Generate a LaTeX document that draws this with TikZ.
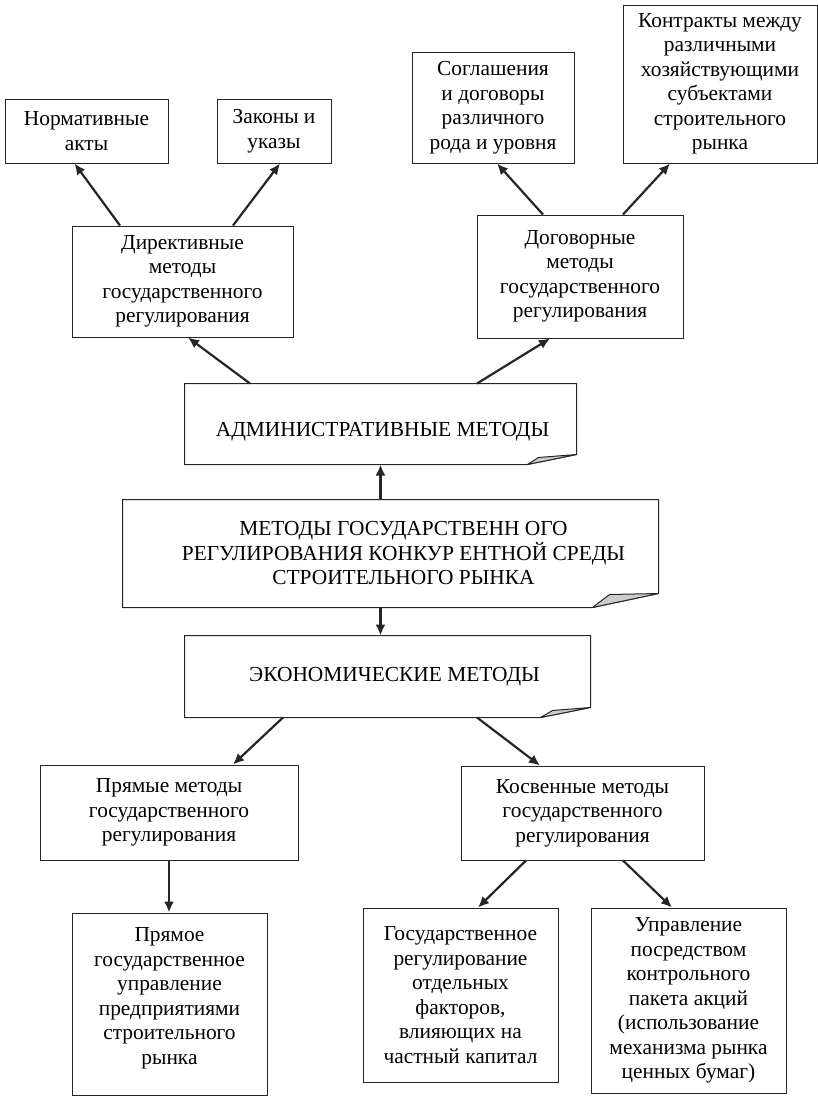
\documentclass[tikz,border=0pt]{standalone}
\usepackage{fontspec}
\setmainfont{Liberation Serif}
\usetikzlibrary{arrows.meta}
\definecolor{curlgray}{gray}{0.8}
\begin{document}
\begin{tikzpicture}[x = 1pt, y = -1pt,
        box/.style = {draw = black!85, line width = 1pt, align = center, inner sep = 0pt,
            font = \fontsize{21.4}{24.5}\selectfont},
        paper/.style = {box, draw = none},
        link/.style = {draw = black!85, line width = 2.2pt, -{Latex[length = 11pt, width = 10pt]}},
        curl/.style = {fill = curlgray, draw = black!85, line width = 1pt, line join = round}]
    \useasboundingbox (0, 0) rectangle (818, 1096);
        \node[box, minimum width = 163, minimum height = 64] (norm) at (86.5, 131) {Нормативные\\акты};
        \node[box, minimum width = 114, minimum height = 64] (zakon) at (274, 131) {Законы и\\указы};
        \node[box, minimum width = 221, minimum height = 111] (direct) at (182.5, 281.5) {Директивные\\методы\\государственного\\регулирования};
        \node[box, minimum width = 162, minimum height = 111] (sogl) at (493, 107.5) {Соглашения\\и договоры\\различного\\рода и уровня};
        \node[box, minimum width = 194, minimum height = 158] (kontr) at (720, 84) {Контракты между\\различными\\хозяйствующими\\субъектами\\строительного\\рынка};
        \node[box, minimum width = 206, minimum height = 123] (dogov) at (580, 276.5) {Договорные\\методы\\государственного\\регулирования};
        \node[paper, minimum width = 391, minimum height = 80, text height = 24pt, text depth = 0pt] (adm) at (380.5, 424) {\hspace*{4pt}АДМИНИСТРАТИВНЫЕ МЕТОДЫ};
        \node[paper, minimum width = 535, minimum height = 107] (gmr) at (390.5, 553.5) {\hspace*{26pt}МЕТОДЫ ГОСУДАРСТВЕНН ОГО\\\hspace*{26pt}РЕГУЛИРОВАНИЯ КОНКУР ЕНТНОЙ СРЕДЫ\\\hspace*{26pt}СТРОИТЕЛЬНОГО РЫНКА};
        \node[paper, minimum width = 405, minimum height = 81] (econ) at (387.5, 676.5) {\hspace*{14pt}ЭКОНОМИЧЕСКИЕ МЕТОДЫ};
        \node[box, minimum width = 258, minimum height = 95] (pryam) at (169, 812.5) {Прямые методы\\государственного\\регулирования};
        \node[box, minimum width = 243, minimum height = 94] (kosv) at (582.5, 813) {Косвенные методы\\государственного\\регулирования};
        \node[box, minimum width = 195, minimum height = 182] (pryamoe) at (169.5, 1004) {Прямое\\государственное\\управление\\предприятиями\\строительного\\рынка\\[-8.5pt]};
        \node[box, minimum width = 195, minimum height = 174] (gosreg) at (460.5, 995) {Государственное\\регулирование\\отдельных\\факторов,\\влияющих на\\частный капитал};
        \node[box, minimum width = 195, minimum height = 185] (upr) at (688.5, 1000.5) {Управление\\посредством\\контрольного\\пакета акций\\(использование\\механизма рынка\\ценных бумаг)};
        \draw[box] (adm.north west) -- (adm.north east) -- ([yshift = 10pt]adm.south east) -- ([xshift = -49pt]adm.south east) -- (adm.south west) -- cycle;
        \draw[curl] ([xshift = -49pt]adm.south east) -- ([xshift = -38pt, yshift = 7pt]adm.south east) -- ([yshift = 10pt]adm.south east) -- cycle;
        \draw[box] (gmr.north west) -- (gmr.north east) -- ([yshift = 14pt]gmr.south east) -- ([xshift = -66pt]gmr.south east) -- (gmr.south west) -- cycle;
        \draw[curl] ([xshift = -66pt]gmr.south east) -- ([xshift = -49pt, yshift = 13pt]gmr.south east) -- ([yshift = 14pt]gmr.south east) -- cycle;
        \draw[box] (econ.north west) -- (econ.north east) -- ([yshift = 10pt]econ.south east) -- ([xshift = -50pt]econ.south east) -- (econ.south west) -- cycle;
        \draw[curl] ([xshift = -50pt]econ.south east) -- ([xshift = -38pt, yshift = 7pt]econ.south east) -- ([yshift = 10pt]econ.south east) -- cycle;
        \draw[link] ([xshift = -62.5pt]direct.north) -- ([xshift = -12pt]norm.south);
        \draw[link] ([xshift = 50.5pt]direct.north) -- ([xshift = 6pt]zakon.south);
        \draw[link] ([xshift = -130.5pt]adm.north) -- ([xshift = 5.5pt]direct.south);
        \draw[link] ([xshift = 96.5pt]adm.north) -- ([xshift = -30pt]dogov.south);
        \draw[link] ([xshift = -37pt]dogov.north) -- ([xshift = 4pt]sogl.south);
        \draw[link] ([xshift = 43pt]dogov.north) -- ([xshift = -50pt]kontr.south);
        \draw[link] (adm.south |- gmr.north) -- (adm.south);
        \draw[link] (adm.south |- gmr.south) -- (adm.south |- econ.north);
        \draw[link] ([xshift = -104.5pt]econ.south) -- ([xshift = 64pt]pryam.north);
        \draw[link] ([xshift = 89.5pt]econ.south) -- ([xshift = -42.5pt]kosv.north);
        \draw[link] (pryam.south) -- (pryam.south |- pryamoe.north);
        \draw[link] ([xshift = -56.5pt]kosv.south) -- ([xshift = 17.5pt]gosreg.north);
        \draw[link] ([xshift = 40.5pt]kosv.south) -- ([xshift = -16.5pt]upr.north);
    \end{tikzpicture}
\end{document}
